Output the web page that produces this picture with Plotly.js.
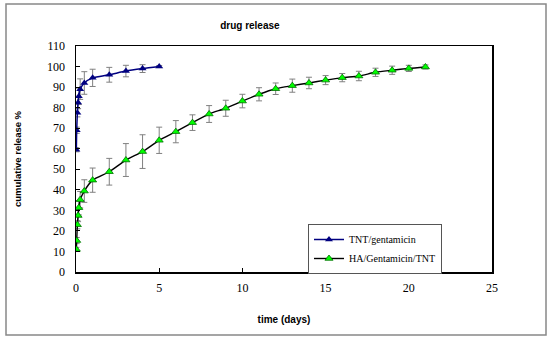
<!DOCTYPE html>
<html>
<head>
<meta charset="utf-8">
<script src="https://cdn.plot.ly/plotly-3.0.1.min.js"></script>
<style>html,body{margin:0;padding:0;background:#fff}#chart{width:550px;height:341px}</style>
</head>
<body>
<div id="chart"></div>
<script>
// Time points (days)
var tntDays = [0.021, 0.042, 0.083, 0.125, 0.167, 0.25, 0.5, 1, 2, 3, 4, 5];
var tntRelease = [59.5, 69, 77.5, 82.5, 85.5, 89, 92, 94.5, 96, 97.8, 99, 100];
var tntError = [1, 1.5, 2, 3, 4, 5, 5.5, 4.2, 3.6, 2.8, 1.9, 0.5];

var haDays = [0.021, 0.042, 0.083, 0.125, 0.167, 0.25, 0.5, 1, 2, 3, 4, 5, 6, 7, 8, 9, 10, 11, 12, 13, 14, 15, 16, 17, 18, 19, 20, 21];
var haRelease = [11, 15.3, 23, 27.5, 31.3, 35.2, 39.4, 44.7, 48.8, 54.5, 58.6, 64.1, 68.3, 72.7, 76.9, 79.7, 83.2, 86.5, 89.2, 90.7, 92, 93.4, 94.6, 95.4, 97.2, 98.2, 99.1, 99.8];
var haError = [1, 1.5, 2, 3, 3.5, 4, 5.5, 5.9, 6.5, 8, 8.2, 6.4, 5.4, 3.8, 4.1, 3.9, 3.3, 3.2, 2.8, 3.2, 2.8, 2.2, 2, 2.3, 2, 2, 1.5, 1];

var xTicks = [0, 5, 10, 15, 20, 25];
var yTicks = [0, 10, 20, 30, 40, 50, 60, 70, 80, 90, 100, 110];

var serif = 'Liberation Serif, Times New Roman, serif';
var sans = 'Liberation Sans, Arial, sans-serif';

var traces = [
  {
    name: 'TNT/gentamicin',
    x: tntDays, y: tntRelease,
    type: 'scatter', mode: 'lines+markers',
    line: {color: '#000080', width: 1.5, shape: 'spline', smoothing: 0.7},
    marker: {symbol: 'triangle-up', size: 7, color: '#000080'},
    error_y: {type: 'data', array: tntError, visible: true, color: '#808080', thickness: 1, width: 3}
  },
  {
    name: 'HA/Gentamicin/TNT',
    x: haDays, y: haRelease,
    type: 'scatter', mode: 'lines+markers',
    line: {color: '#000000', width: 1.4, shape: 'spline', smoothing: 0.7},
    marker: {symbol: 'triangle-up', size: 7, color: '#00ff00', line: {color: '#007000', width: 0.8}},
    error_y: {type: 'data', array: haError, visible: true, color: '#808080', thickness: 1, width: 3}
  }
];

var layout = {
  width: 550, height: 341,
  margin: {l: 76, r: 58, t: 46, b: 69},
  paper_bgcolor: '#ffffff', plot_bgcolor: '#ffffff',
  showlegend: true,
  title: {
    text: '<b>drug release</b>',
    font: {family: sans, size: 10, color: '#000'},
    xref: 'paper', x: 0.418, xanchor: 'center',
    yref: 'container', y: 1 - 25/341, yanchor: 'middle'
  },
  xaxis: {
    range: [0, 25], tickvals: xTicks, ticktext: xTicks.map(String),
    showgrid: false, zeroline: false,
    showline: true, linecolor: '#000', linewidth: 1.5, mirror: true,
    ticks: 'inside', ticklen: 4, tickcolor: '#000', tickwidth: 1,
    ticklabelstandoff: 4,
    tickfont: {family: serif, size: 12, color: '#000'},
    title: {text: '<b>time (days)</b>', font: {family: sans, size: 10, color: '#000'}, standoff: 22},
    automargin: false
  },
  yaxis: {
    range: [0, 110], tickvals: yTicks, ticktext: yTicks.map(String),
    showgrid: false, zeroline: false,
    showline: true, linecolor: '#000', linewidth: 1.5, mirror: true,
    ticks: 'inside', ticklen: 4, tickcolor: '#000', tickwidth: 1,
    ticklabelstandoff: 7,
    tickfont: {family: serif, size: 12, color: '#000'},
    title: {text: '<b>cumulative release %</b>', font: {family: sans, size: 9.5, color: '#000'}, standoff: 24},
    automargin: false
  },
  legend: {
    x: (308 - 76) / 416, xanchor: 'left',
    y: (272 - 224) / 226, yanchor: 'top',
    bgcolor: '#ffffff', bordercolor: '#555555', borderwidth: 1,
    font: {family: serif, size: 10, color: '#000'}
  },
  shapes: [{
    type: 'rect', xref: 'paper', yref: 'paper',
    x0: (6 - 76) / 416, x1: (546 - 76) / 416,
    y0: (272 - 335) / 226, y1: (272 - 4) / 226,
    line: {color: '#888888', width: 1.5}, fillcolor: 'rgba(0,0,0,0)', layer: 'below'
  }]
};

Plotly.newPlot('chart', traces, layout, {displayModeBar: false, staticPlot: true});
</script>
</body>
</html>
